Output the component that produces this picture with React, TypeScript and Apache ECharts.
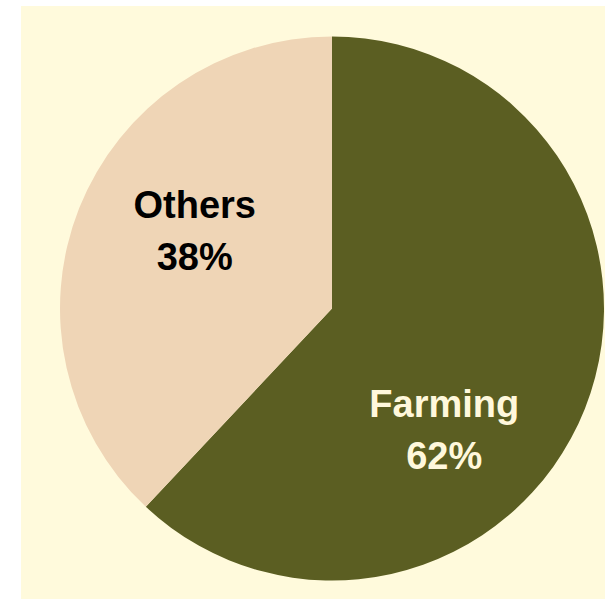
import React, { useEffect, useRef } from "react";
import * as echarts from "echarts";

const categories = ["Farming", "Others"];
const shares = [62, 38];
const sliceColors = ["#5B5E22", "#EFD5B6"];
const labelColors = ["#FFF8DC", "#000000"];
const labelOffsets = [
  [-17, 70],
  [-8, -26],
];

export default function App() {
  const ref = useRef<HTMLDivElement>(null);
  useEffect(() => {
    if (!ref.current) return;
    const chart = echarts.init(ref.current, undefined, { renderer: "svg" });
    chart.setOption({
      animation: false,
      graphic: [
        {
          type: "rect",
          shape: { x: 21, y: 6, width: 584, height: 593 },
          style: { fill: "#FFFADC" },
          z: -10,
        },
      ],
      series: [
        {
          type: "pie",
          center: [332, 308.5],
          radius: 272,
          startAngle: 90,
          clockwise: true,
          silent: true,
          labelLine: { show: false },
          data: categories.map((name, i) => ({
            name,
            value: shares[i],
            itemStyle: { color: sliceColors[i] },
            label: {
              show: true,
              position: "inside",
              offset: labelOffsets[i],
              formatter: "{b}\n{c}%",
              color: labelColors[i],
              fontFamily: "Liberation Sans, Arial, sans-serif",
              fontWeight: "bold",
              fontSize: 38,
              lineHeight: 52,
              align: "center",
            },
          })),
        },
      ],
    });
    return () => chart.dispose();
  }, []);
  return (
    <div
      ref={ref}
      style={{ position: "absolute", left: 0, top: 0, width: 605, height: 599 }}
    />
  );
}
